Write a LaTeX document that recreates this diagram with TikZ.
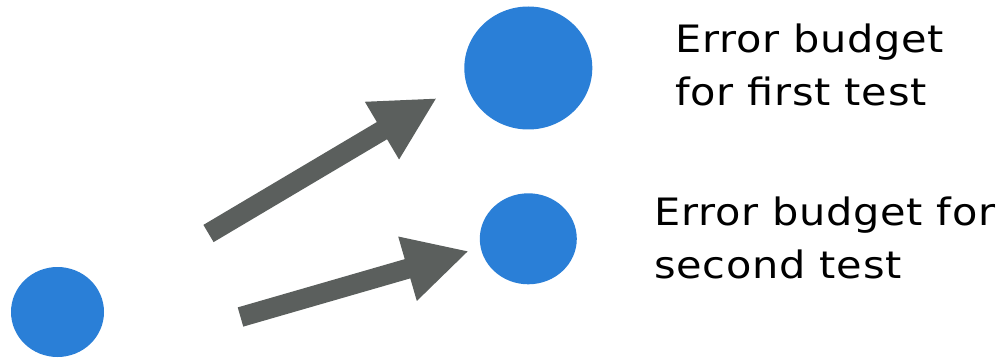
\documentclass[tikz,border=0pt]{standalone}
\usepackage{fontspec}
\setmainfont{DejaVu Sans}[FakeStretch=1.1,LetterSpace=2]
\usetikzlibrary{arrows.meta,shapes.geometric}
\definecolor{dotblue}{HTML}{2A7FD7}
\definecolor{arrowgray}{HTML}{5B5F5D}
\tikzset{
  dot/.style={ellipse,fill=dotblue,draw=none,inner sep=0pt},
  bigarrow/.style={draw=arrowgray,line width=20pt,-{Triangle[length=64pt,width=62pt]}},
  label/.style={anchor=base west,inner sep=0pt,align=left,text=black,
    font=\fontsize{37.7pt}{53.5pt}\selectfont}
}
\begin{document}
\begin{tikzpicture}[x=1pt,y=-1pt]
\useasboundingbox (0,0) rectangle (1006,358);
\node[dot,minimum width=93pt,minimum height=90pt] (src) at (57.5,312) {};
\node[dot,minimum width=128pt,minimum height=123pt] (first) at (528.3,68) {};
\node[dot,minimum width=97pt,minimum height=91pt] (second) at (528.3,238.8) {};
\coordinate (a1s) at (208.5,233.5);
\coordinate (a1e) at (437,98);
\coordinate (a2s) at (240.5,317);
\coordinate (a2e) at (469,251);
\draw[bigarrow] (a1s) -- (a1e);
\draw[bigarrow] (a2s) -- (a2e);
\node[label] (t1) at (675,105.8) {Error budget\\for first test};
\node[label] (t2) at (654,278.5) {Error budget for\\second test};
\end{tikzpicture}
\end{document}
